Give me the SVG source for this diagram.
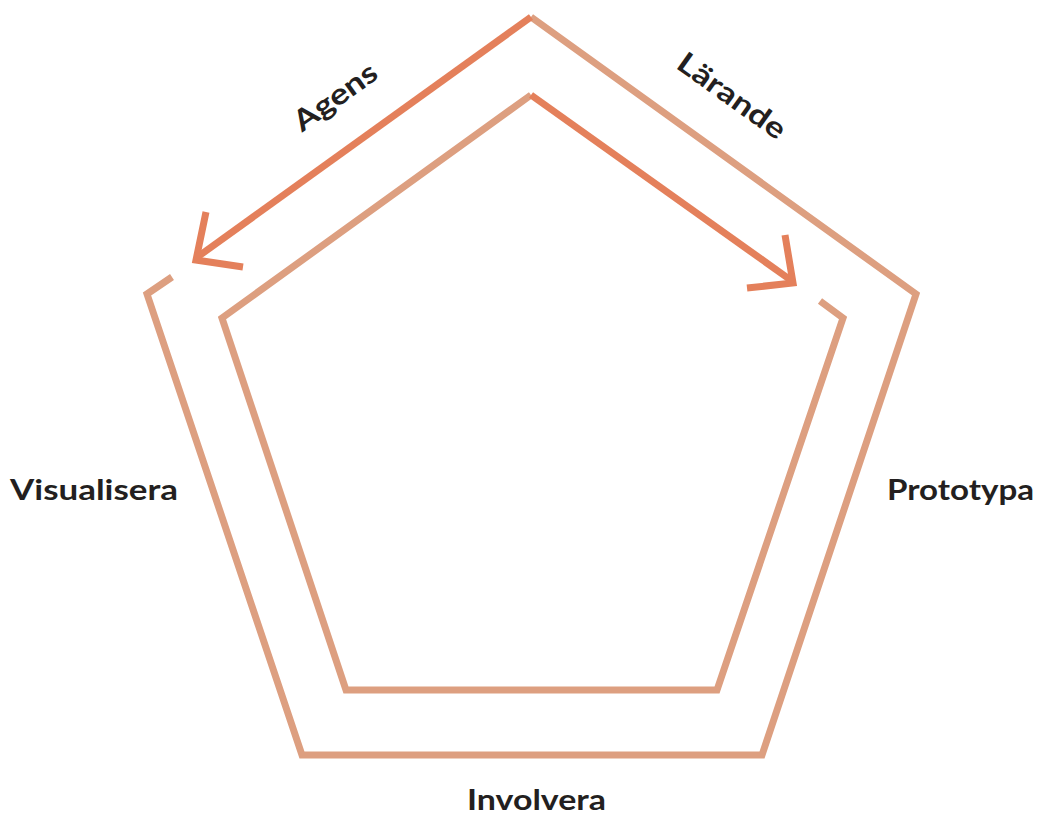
<svg xmlns="http://www.w3.org/2000/svg" width="1039" height="816" viewBox="0 0 1039 816">
<style>
.peach{fill:none;stroke:#dd9f80;stroke-width:7;stroke-linejoin:miter;stroke-linecap:butt}
.orange{fill:none;stroke:#e4805b;stroke-width:7;stroke-linejoin:miter;stroke-linecap:butt}
.lbl{font-family:Lato,"Liberation Sans",sans-serif;font-weight:bold;font-size:29px;fill:#231f20}
</style>
<rect width="1039" height="816" fill="#ffffff"/>
<g id="connectors">
<polyline id="outer" class="peach" points="172,277 147,294 302,755 762,755 916,294 531,17"/>
<polyline id="inner" class="peach" points="531,95 222,318 346,690 717,690 843,318 820,301"/>
<polyline id="agens-arrow" class="orange" points="531,17 196,258"/>
<polyline id="agens-head" class="orange" points="206,212 196,260 243,267"/>
<polyline id="larande-arrow" class="orange" points="531,95 792,281"/>
<polyline id="larande-head" class="orange" points="785,235 793,283 747,288"/>
</g>
<g id="agens"><text class="lbl" transform="translate(341,105) rotate(-35.5)" text-anchor="middle" textLength="96" lengthAdjust="spacingAndGlyphs">Agens</text></g>
<g id="larande"><text class="lbl" transform="translate(726,104) rotate(35.6)" text-anchor="middle" textLength="126" lengthAdjust="spacingAndGlyphs">Lärande</text></g>
<g id="visualisera"><text class="lbl" x="10" y="500" textLength="168" lengthAdjust="spacingAndGlyphs">Visualisera</text></g>
<g id="prototypa"><text class="lbl" x="887" y="500" textLength="147" lengthAdjust="spacingAndGlyphs">Prototypa</text></g>
<g id="involvera"><text class="lbl" x="467" y="810" textLength="139" lengthAdjust="spacingAndGlyphs">Involvera</text></g>
</svg>
